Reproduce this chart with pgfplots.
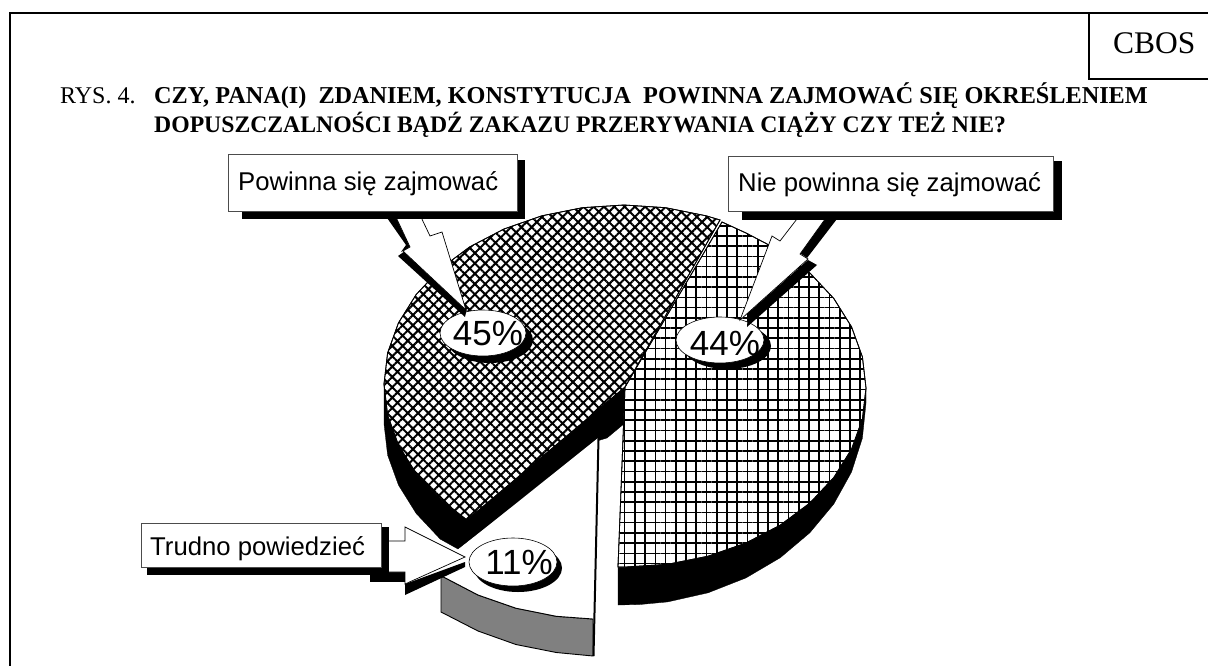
\documentclass[border=0pt]{standalone}
\usepackage{fontspec}
\setmainfont{Liberation Serif}
\newfontfamily\arial{Liberation Sans}
\usepackage{pgfplots}
\pgfplotsset{compat=1.18}
\usetikzlibrary{patterns.meta}
\begin{document}
\begin{tikzpicture}
\begin{axis}[
  width=1208bp,height=666bp,scale only axis,
  xmin=0,xmax=1208,ymin=0,ymax=666,y dir=reverse,
  axis line style={draw=none},ticks=none,
  clip mode=individual,
  every axis plot/.append style={line join=miter}
]
% frame
\addplot[draw=black,line width=2.2bp] coordinates {(10,666)(10,13)(1208,13)};
\addplot[draw=black,line width=2.2bp] coordinates {(1089,13)(1089,79)(1208,79)};
% wall of hatched slice
\addplot[fill=black,draw=black,line width=.3bp] coordinates {(384,384)(384,424)(387.6,455.1)(398.5,485.2)(416.2,513.5)(440.2,539.1)(458,549)(597,441)(607,438)(625,423)(625,387)(467,520)} --cycle;
% wall of grid slice
\addplot[fill=black,draw=black,line width=.3bp] coordinates {(866,388)(866,403)(862.4,438.1)(851.5,472.1)(833.8,504)(809.8,532.8)(780.3,557.7)(746,577.9)(708.1,592.8)(667.7,601.9)(640,604.5)(618,605)(618,560)} --cycle;
% grid slice 44%
\addplot[draw=black,line width=.8bp,fill=white] coordinates {(625,387)(722,222)(746,233)(780.3,250.9)(809.8,272.9)(833.8,298.5)(851.5,326.8)(862.4,356.9)(866,388)(862.4,419.1)(851.5,449.2)(833.8,477.5)(809.8,503.1)(780.3,525.1)(746,543)(708.1,556.2)(667.7,564.3)(626,567)(618,567)} --cycle;
\addplot[draw=black,line width=.8bp,pattern={Hatch[angle=0,distance=10.24bp,line width=1.7bp]},pattern color=black] coordinates {(625,387)(722,222)(746,233)(780.3,250.9)(809.8,272.9)(833.8,298.5)(851.5,326.8)(862.4,356.9)(866,388)(862.4,419.1)(851.5,449.2)(833.8,477.5)(809.8,503.1)(780.3,525.1)(746,543)(708.1,556.2)(667.7,564.3)(626,567)(618,567)} --cycle;
% hatched slice 45%
\addplot[draw=black,line width=.8bp,fill=white] coordinates {(625,387)(720,220)(706.1,215.8)(665.7,207.7)(624,205)(582.3,207.7)(541.9,215.8)(504,229)(469.7,246.9)(440.2,268.9)(416.2,294.5)(398.5,322.8)(387.6,352.9)(384,384)(387.6,415.1)(398.5,445.2)(416.2,473.5)(440.2,499.1)(467,520)} --cycle;
\addplot[draw=black,line width=.8bp,pattern={Hatch[angle=45,distance=7.3bp,line width=2bp]},pattern color=black] coordinates {(625,387)(720,220)(706.1,215.8)(665.7,207.7)(624,205)(582.3,207.7)(541.9,215.8)(504,229)(469.7,246.9)(440.2,268.9)(416.2,294.5)(398.5,322.8)(387.6,352.9)(384,384)(387.6,415.1)(398.5,445.2)(416.2,473.5)(440.2,499.1)(467,520)} --cycle;
% gray wall and white slice 11%
\addplot[fill=gray,draw=black,line width=.9bp] coordinates {(441,577)(443.7,577.1)(478,595)(515.9,608.2)(556.3,616.3)(593,619)(593,656)(556.3,652.5)(515.9,644.5)(478,631)(441,612)} --cycle;
\addplot[fill=white,draw=none] coordinates {(598,438)(444,561)(443.7,577.1)(478,595)(515.9,608.2)(556.3,616.3)(593,619)} --cycle;
\addplot[draw=black,line width=.9bp] coordinates {(443.7,577.1)(478,595)(515.9,608.2)(556.3,616.3)(593,619)};
\addplot[draw=black,line width=2bp] coordinates {(598.5,438)(593.5,656)};
% number ovals
\fill[black] (axis cs:490,340) ellipse [x radius=43,y radius=23];
\draw[fill=white,line width=.6bp] (axis cs:483,333) ellipse [x radius=43,y radius=23];
\fill[black] (axis cs:727,346) ellipse [x radius=44,y radius=23];
\draw[fill=white,line width=.6bp] (axis cs:720,340) ellipse [x radius=44,y radius=23];
\fill[black] (axis cs:518,568) ellipse [x radius=44,y radius=24];
\draw[fill=white,line width=.6bp] (axis cs:513,562) ellipse [x radius=44,y radius=24];
% arrow 1
\addplot[fill=black,draw=none] coordinates {(385,215)(395,215)(410,247)(401,252)(406,245)} --cycle;
\addplot[fill=black,draw=none] coordinates {(398,256)(405,251)(467,308)(465,317)} --cycle;
\addplot[fill=white,draw=black,line width=.7bp] coordinates {(395,215)(410,247)(403,251)(466,310)(442,232)(430,236)(420,215)} --cycle;
% arrow 2
\addplot[fill=black,draw=none] coordinates {(828,215)(840,215)(807,258)(800,253)} --cycle;
\addplot[fill=black,draw=none] coordinates {(808,260)(817,265)(747,327)(748,313)} --cycle;
\addplot[fill=white,draw=black,line width=.7bp] coordinates {(828,215)(800,254)(808,259)(740,320)(772,236)(780,241)(800,215)} --cycle;
% arrow 3
\addplot[fill=black,draw=none] coordinates {(405,584)(465,562)(465,567)(405,595)} --cycle;
\addplot[fill=black,draw=none] coordinates {(370,572)(405,572)(405,582)(370,582)} --cycle;
\addplot[fill=white,draw=black,line width=.7bp] coordinates {(388,541)(405,541)(405,527)(465,557)(405,584)(405,572)(388,572)} --cycle;
% label shadows and boxes
\addplot[fill=black,draw=none] coordinates {(242,160)(525,160)(525,219)(242,219)} --cycle;
\addplot[fill=white,draw=black!70,line width=.8bp] coordinates {(228,154)(517,154)(517,211)(228,211)} --cycle;
\addplot[fill=black,draw=none] coordinates {(742,161)(1062,161)(1062,220)(742,220)} --cycle;
\addplot[fill=white,draw=black!70,line width=.8bp] coordinates {(728,156)(1053,156)(1053,211)(728,211)} --cycle;
\addplot[fill=black,draw=none] coordinates {(147,527)(389,527)(389,575)(147,575)} --cycle;
\addplot[fill=white,draw=black!70,line width=.8bp] coordinates {(141,523)(381,523)(381,567)(141,567)} --cycle;
% texts
\node[anchor=base west,inner sep=0pt,font=\arial\fontsize{25.7bp}{30bp}\selectfont] at (axis cs:238,190) {Powinna się zajmować};
\node[anchor=base west,inner sep=0pt,font=\arial\fontsize{25.7bp}{30bp}\selectfont] at (axis cs:738,191) {Nie powinna się zajmować};
\node[anchor=base west,inner sep=0pt,font=\arial\fontsize{25.7bp}{30bp}\selectfont] at (axis cs:150,555) {Trudno powiedzieć};
\node[inner sep=0pt,font=\arial\fontsize{35bp}{40bp}\selectfont] at (axis cs:488,334) {45\%};
\node[inner sep=0pt,font=\arial\fontsize{35bp}{40bp}\selectfont] at (axis cs:725,343) {44\%};
\node[inner sep=0pt,font=\arial\fontsize{35bp}{40bp}\selectfont] at (axis cs:519,562) {11\%};
\node[anchor=base west,inner sep=0pt,font=\fontsize{31.5bp}{36bp}\selectfont] at (axis cs:1113,54) {CBOS};
\node[anchor=base west,inner sep=0pt,font=\fontsize{24bp}{24bp}\selectfont] at (axis cs:60,103) {RYS. 4.};
\node[anchor=base west,inner sep=0pt,font=\bfseries\fontsize{24.25bp}{24bp}\selectfont] at (axis cs:154,103) {CZY, PANA(I)\ \ ZDANIEM, KONSTYTUCJA\ \ POWINNA ZAJMOWAĆ SIĘ OKREŚLENIEM};
\node[anchor=base west,inner sep=0pt,font=\bfseries\fontsize{23.7bp}{24bp}\selectfont] at (axis cs:154,132) {DOPUSZCZALNOŚCI BĄDŹ ZAKAZU PRZERYWANIA CIĄŻY CZY TEŻ NIE?};
\end{axis}
\end{tikzpicture}
\end{document}
